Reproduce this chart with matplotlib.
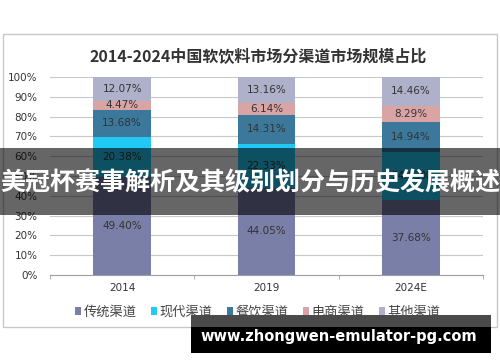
import matplotlib.pyplot as plt
from matplotlib.patches import Rectangle
import numpy as np

plt.rcParams['font.family'] = ['Noto Sans CJK SC', 'DejaVu Sans']

years = ['2014', '2019', '2024E']
channels = ['传统渠道', '现代渠道', '餐饮渠道', '电商渠道', '其他渠道']
traditional = [49.40, 44.05, 37.68]
modern = [20.38, 22.33, 24.63]
catering = [13.68, 14.31, 14.94]
ecommerce = [4.47, 6.14, 8.29]
other = [12.07, 13.16, 14.46]

colors = ['#7a7fa8', '#22c8f6', '#3b789c', '#dba4a4', '#aeb1c9']
series = [traditional, modern, catering, ecommerce, other]

fig = plt.figure(figsize=(5, 3.62), dpi=100)
fig.patch.set_facecolor('white')

# chart frame
fig.patches.append(Rectangle((3/500, 1-327/362), 494/500, 293/362, transform=fig.transFigure,
                             facecolor='white', edgecolor='#c8c8c8', linewidth=1, zorder=-5))

ax = fig.add_axes([0.1, 1-275/362, 0.866, (275-77)/362])
ax.patch.set_alpha(0)
x = np.arange(len(years))
bottom = np.zeros(len(years))
for vals, c, name in zip(series, colors, channels):
    vals = np.array(vals)
    ax.bar(x, vals, 0.4, bottom=bottom, color=c, label=name, zorder=2)
    for xi, b, v in zip(x, bottom, vals):
        ax.text(xi, b + v/2, f'{v:.2f}%', ha='center', va='center', fontsize=7.5,
                color='#333333', family='DejaVu Sans', zorder=3)
    bottom += vals

ax.set_xlim(-0.5, 2.5)
ax.set_ylim(0, 100)
ax.set_yticks(range(0, 101, 10))
ax.set_yticklabels([f'{v}%' for v in range(0, 101, 10)], fontsize=7.5, color='#333333',
                   family='DejaVu Sans')
ax.set_xticks(x)
ax.set_xticklabels(years, fontsize=7.5, color='#333333', family='DejaVu Sans')
ax.tick_params(axis='y', length=0, pad=9)
ax.tick_params(axis='x', length=0, pad=6)
ax.set_xticks([-0.5, 0.5, 1.5, 2.5], minor=True)
ax.tick_params(axis='x', which='minor', length=3, color='#a0a0a0')
ax.grid(axis='y', color='#c8c8c8', linewidth=0.8, zorder=0)
ax.set_axisbelow(True)
for s in ['left', 'right', 'top']:
    ax.spines[s].set_visible(False)
ax.spines['bottom'].set_color('#a0a0a0')

ax.legend(loc='upper center', bbox_to_anchor=(0.48, -0.095), ncol=5, frameon=False,
          fontsize=9.5, handlelength=0.45, handleheight=0.45, handletextpad=0.2,
          columnspacing=1.1, labelcolor='#444444')

fig.text(0.516, 1-57/362, '2014-2024中国软饮料市场分渠道市场规模占比', ha='center', va='center',
         fontsize=11.5, fontweight='bold', color='#333333')

# overlay banner
fig.patches.append(Rectangle((0, 1-215/362), 1, 67/362, transform=fig.transFigure,
                             facecolor='black', alpha=0.6, edgecolor='none', zorder=5))
fig.text(0.5, 1-183/362, '美冠杯赛事解析及其级别划分与历史发展概述', ha='center', va='center',
         fontsize=18, fontweight='bold', color='white', zorder=6)

# watermark box
fig.patches.append(Rectangle((191/500, 1-327/362), 300/500, 12/362, transform=fig.transFigure,
                             facecolor='#4a4a4a', edgecolor='none', zorder=5))
fig.patches.append(Rectangle((191/500, 1-353/362), 300/500, 26/362, transform=fig.transFigure,
                             facecolor='black', edgecolor='none', zorder=5))
fig.text(339/500, 1-336/362, 'www.zhongwen-emulator-pg.com', ha='center', va='center',
         fontsize=10.5, fontweight='bold', color='white', zorder=6, family='DejaVu Sans')

fig.savefig('out.png', dpi=100)
